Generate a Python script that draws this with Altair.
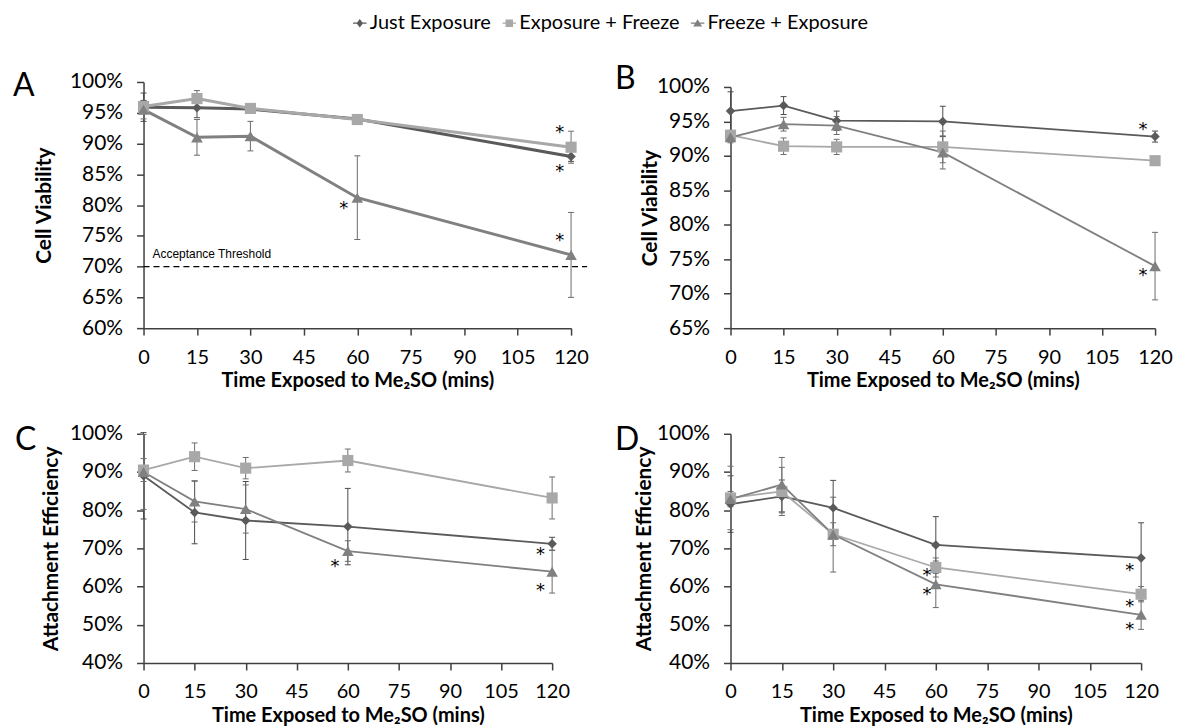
import altair as alt
import pandas as pd

SERIES = ["Just Exposure", "Exposure + Freeze", "Freeze + Exposure"]
TIMES = [0, 15, 30, 60, 120]
X_TICKS = [0, 15, 30, 45, 60, 75, 90, 105, 120]
X_TITLE = "Time Exposed to Me\u2082SO (mins)"

# ---- Panel A : cell viability (%) ----
A_JUST = [95.9, 95.8, 95.6, 94.0, 87.9]
A_JUST_ERR = [2.3, 1.6, 0.6, 0.6, 0.8]
A_EXPFRZ = [96.0, 97.3, 95.7, 93.9, 89.4]
A_EXPFRZ_ERR = [1.0, 1.3, 0.7, 0.7, 2.6]
A_FRZEXP = [95.5, 91.0, 91.2, 81.2, 71.9]
A_FRZEXP_ERR = [1.5, 2.9, 2.4, 6.8, 6.9]
A_STAR_T = [116.8, 116.8, 56.2, 116.8]
A_STAR_V = [92.4, 86.0, 80.0, 74.8]
THRESHOLD = [70]

# ---- Panel B : cell viability (%) ----
B_JUST = [96.5, 97.3, 95.1, 95.0, 92.8]
B_JUST_ERR = [2.8, 1.3, 1.4, 2.2, 0.8]
B_EXPFRZ = [93.0, 91.4, 91.3, 91.3, 89.3]
B_EXPFRZ_ERR = [0.6, 1.2, 1.1, 2.3, 0.4]
B_FRZEXP = [92.7, 94.6, 94.4, 90.5, 74.0]
B_FRZEXP_ERR = [0.8, 1.0, 1.3, 2.4, 4.9]
B_STAR_T = [116.6, 116.6]
B_STAR_V = [94.3, 73.2]

# ---- Panel C : attachment efficiency (%) ----
C_JUST = [89.0, 79.4, 77.3, 75.7, 71.2]
C_JUST_ERR = [11.3, 8.2, 10.2, 10.0, 1.7]
C_EXPFRZ = [90.5, 94.0, 91.0, 93.0, 83.2]
C_EXPFRZ_ERR = [3.0, 3.6, 2.8, 3.0, 5.5]
C_FRZEXP = [90.0, 82.3, 80.3, 69.3, 63.9]
C_FRZEXP_ERR = [9.8, 5.4, 6.3, 2.7, 5.6]
C_STAR_T = [56.2, 116.6, 116.6]
C_STAR_V = [66.2, 69.2, 59.9]

# ---- Panel D : attachment efficiency (%) ----
D_JUST = [81.6, 83.6, 80.6, 70.9, 67.5]
D_JUST_ERR = [7.4, 4.3, 7.2, 7.4, 9.2]
D_EXPFRZ = [83.2, 84.9, 73.7, 65.0, 58.0]
D_EXPFRZ_ERR = [8.3, 6.3, 3.0, 2.5, 2.0]
D_FRZEXP = [82.9, 86.7, 73.6, 60.6, 52.6]
D_FRZEXP_ERR = [2.0, 7.1, 9.8, 6.1, 3.8]
D_STAR_T = [57.4, 57.4, 116.7, 116.7, 116.7]
D_STAR_V = [63.8, 58.9, 65.1, 55.7, 49.8]

FONT = "Lato"
STAR_FONT = "DejaVu Sans"
COLORS = ["#5a5a5a", "#a8a8a8", "#808080"]
ERR_COLORS = ["#4a4a4a", "#6e6e6e", "#6a6a6a"]
SHAPES = ["diamond", "square", "triangle-up"]
SIZES = [90, 125, 135]
LEG_PATHS = [
    "M-1.69,-0.16L1.69,-0.16L1.69,0.16L-1.69,0.16Z M0,-1.06L0.81,0L0,1.06L-0.81,0Z",
    "M-1.69,-0.16L1.69,-0.16L1.69,0.16L-1.69,0.16Z M-0.94,-0.94L0.94,-0.94L0.94,0.94L-0.94,0.94Z",
    "M-1.69,-0.16L1.69,-0.16L1.69,0.16L-1.69,0.16Z M0,-1.0L1.12,0.81L-1.12,0.81Z",
]

xs = alt.Scale(domain=[0, 120], nice=False, zero=False)


def panel_frame(vals):
    rows = []
    for s, (v, e) in zip(SERIES, vals):
        for t, vv, ee in zip(TIMES, v, e):
            rows.append({"series": s, "time": t, "value": vv, "lo": vv - ee, "hi": vv + ee})
    return pd.DataFrame(rows)


def make_panel(vals, star_t, star_v, ydom, ystep, w, h, ytitle, title_x,
               letter, letter_x, letter_y, lw, extra=()):
    df = panel_frame(vals)
    ys = alt.Scale(domain=ydom, nice=False, zero=False)
    yvals = list(range(ydom[0], ydom[1] + 1, ystep))
    xaxis = alt.Axis(values=X_TICKS, title=X_TITLE, titleY=43, titleBaseline="top",
                     labelFlush=False, labelOverlap=False, labelPadding=12,
                     labelFontSize=20, titleFontSize=20)
    yaxis = alt.Axis(values=yvals, labelExpr="datum.value + '%'", title=ytitle,
                     titleX=title_x, titleY=h / 2, titleBaseline="middle",
                     titleAngle=-90, labelOverlap=False)

    def X(f):
        return alt.X(f, scale=xs, axis=xaxis)

    def Y(f):
        return alt.Y(f, scale=ys, axis=yaxis)

    base = alt.Chart(df)
    layers = []
    for s, c in zip(SERIES, COLORS):
        layers.append(base.transform_filter(alt.datum.series == s)
                      .mark_line(strokeWidth=lw, color=c)
                      .encode(x=X("time:Q"), y=Y("value:Q")))
    for s, c in zip(SERIES, ERR_COLORS):
        sub = base.transform_filter(alt.datum.series == s)
        layers.append(sub.mark_rule(strokeWidth=1, color=c).encode(
            x=X("time:Q"), y=Y("lo:Q"), y2=alt.Y2("hi:Q")))
        layers.append(sub.transform_fold(["lo", "hi"], as_=["end", "v"]).mark_rule(
            strokeWidth=1, xOffset=-3, x2Offset=3, color=c
        ).encode(x=X("time:Q"), x2=alt.X2("time:Q"), y=Y("v:Q")))
    for s, sh, sz, c in zip(SERIES, SHAPES, SIZES, COLORS):
        layers.append(base.transform_filter(alt.datum.series == s)
                      .mark_point(shape=sh, size=sz, filled=True, opacity=1, color=c)
                      .encode(x=X("time:Q"), y=Y("value:Q")))
    layers.append(alt.Chart(pd.DataFrame({"time": star_t, "value": star_v})).mark_text(
        text="*", fontSize=18, dy=4, color="#000000", font=STAR_FONT
    ).encode(x=X("time:Q"), y=Y("value:Q")))
    layers.append(alt.Chart(pd.DataFrame({"letter": [letter]})).mark_text(
        fontSize=32, align="left", baseline="middle", color="black", font=FONT
    ).encode(text="letter:N", x=alt.value(letter_x), y=alt.value(letter_y)))
    for e in extra:
        layers.extend(e(X, Y))
    return alt.layer(*layers).properties(width=w, height=h)


def threshold_layers(X, Y):
    tdf = pd.DataFrame({"v": THRESHOLD, "t0": [0], "t1": [124.5], "txt": ["Acceptance Threshold"]})
    rule = alt.Chart(tdf).mark_rule(strokeDash=[6, 4], strokeWidth=1.4, color="black").encode(
        x=X("t0:Q"), x2=alt.X2("t1:Q"), y=Y("v:Q"))
    text = alt.Chart(tdf).mark_text(align="left", baseline="middle", dx=9, dy=-13,
                                    font="Liberation Sans", fontSize=12, color="black").encode(
        x=X("t0:Q"), y=Y("v:Q"), text="txt:N")
    return [rule, text]


def legend_layer(X, Y):
    leg = alt.Legend(orient="none", legendX=207, legendY=-69, direction="horizontal",
                     title=None, labelFontSize=20, labelColor="black", labelFont=FONT,
                     symbolSize=64, labelOffset=0, columnPadding=8, labelLimit=400,
                     symbolStrokeWidth=0)
    return [alt.Chart(pd.DataFrame({"series": SERIES})).transform_filter("false").mark_point(
        filled=True, size=64, opacity=1
    ).encode(
        color=alt.Color("series:N", scale=alt.Scale(domain=SERIES, range=COLORS), legend=leg),
        shape=alt.Shape("series:N", scale=alt.Scale(domain=SERIES, range=LEG_PATHS), legend=leg),
    )]


panel_a = make_panel(
    [(A_JUST, A_JUST_ERR), (A_EXPFRZ, A_EXPFRZ_ERR), (A_FRZEXP, A_FRZEXP_ERR)],
    A_STAR_T, A_STAR_V, [60, 100], 5, 429, 247, "Cell Viability", -99,
    "A", -131, 4, 3, extra=(threshold_layers, legend_layer))
panel_b = make_panel(
    [(B_JUST, B_JUST_ERR), (B_EXPFRZ, B_EXPFRZ_ERR), (B_FRZEXP, B_FRZEXP_ERR)],
    B_STAR_T, B_STAR_V, [65, 100], 5, 426, 242, "Cell Viability", -80,
    "B", -116, -8, 1.8)
panel_c = make_panel(
    [(C_JUST, C_JUST_ERR), (C_EXPFRZ, C_EXPFRZ_ERR), (C_FRZEXP, C_FRZEXP_ERR)],
    C_STAR_T, C_STAR_V, [40, 100], 10, 410, 230, "Attachment  Efficiency", -92,
    "C", -129, 6, 1.8)
panel_d = make_panel(
    [(D_JUST, D_JUST_ERR), (D_EXPFRZ, D_EXPFRZ_ERR), (D_FRZEXP, D_FRZEXP_ERR)],
    D_STAR_T, D_STAR_V, [40, 100], 10, 412, 230, "Attachment  Efficiency", -86,
    "D", -116, 6, 1.8)

spacer = alt.Chart(pd.DataFrame({"s": [0]})).mark_point(opacity=0).encode(
    x=alt.value(0), y=alt.value(0)
).properties(width=426, height=5)
cell_b = alt.vconcat(spacer, panel_b, spacing=0, bounds="flush")

chart = alt.concat(
    panel_a, cell_b, panel_c, panel_d,
    columns=2, spacing={"row": 106, "column": 160}, bounds="flush",
).properties(
    padding={"left": 5, "top": 4, "right": 0, "bottom": 0}
).configure(
    font=FONT
).configure_view(
    stroke=None
).configure_axis(
    domainColor="#404040", domainWidth=1.5, tickColor="#404040", tickWidth=1.5,
    tickSize=7, labelFontSize=21, labelColor="black", labelPadding=14,
    titleFontSize=21, titleFontWeight="bold", titleColor="black", grid=False,
    labelFont=FONT, titleFont=FONT,
)

chart.save("out.html", embed_options={"renderer": "svg", "actions": False})
